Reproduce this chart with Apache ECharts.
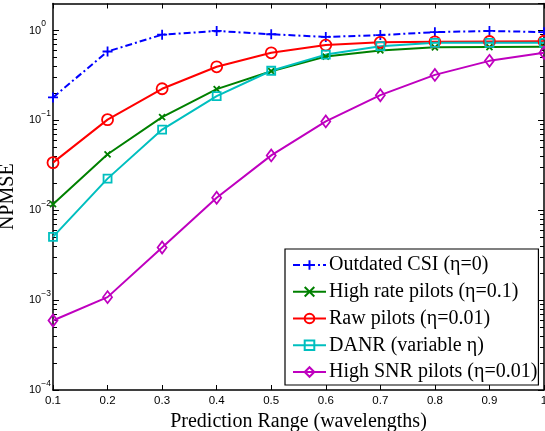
<!DOCTYPE html>
<html>
<head>
<meta charset="utf-8">
<script src="https://cdn.jsdelivr.net/npm/echarts@6/dist/echarts.min.js"></script>
<style>
  html, body { margin: 0; padding: 0; background: #fff; }
  #chart { width: 545px; height: 431px; }
</style>
</head>
<body>
<div id="chart"></div>
<script>
// Prediction range in wavelengths
const predictionRange = [0.1, 0.2, 0.3, 0.4, 0.5, 0.6, 0.7, 0.8, 0.9, 1.0];

// NPMSE for each prediction scheme
const outdatedCsi   = [0.18, 0.585, 0.90, 0.99, 0.91, 0.85, 0.89, 0.96, 0.99, 0.96];
const highRatePilot = [0.0117, 0.042, 0.109, 0.223, 0.353, 0.514, 0.60, 0.65, 0.655, 0.66];
const rawPilot      = [0.0339, 0.102, 0.225, 0.395, 0.565, 0.69, 0.74, 0.75, 0.755, 0.76];
const danr          = [0.00506, 0.0225, 0.079, 0.186, 0.357, 0.54, 0.67, 0.73, 0.73, 0.73];
const highSnrPilot  = [0.000594, 0.00108, 0.00385, 0.0138, 0.0408, 0.0975, 0.191, 0.321, 0.46, 0.565];

const seriesNames = [
  'Outdated CSI (\u03b7=0)',
  'High rate pilots (\u03b7=0.1)',
  'Raw pilots (\u03b7=0.01)',
  'DANR (variable \u03b7)',
  'High SNR pilots (\u03b7=0.01)'
];

const yMin = 1e-4, yMax = 2;

// log-spaced minor tick positions (in log10 units) for the tick-only axes
const minorTicks = [];
for (let e = -4; e <= 0; e++) {
  for (let k = 2; k <= 9; k++) {
    const v = Math.log10(k) + e;
    if (v < Math.log10(yMax)) minorTicks.push(v);
  }
}

const serifFont = '"Liberation Serif", "Times New Roman", serif';
const sansFont = '"Liberation Sans", Arial, Helvetica, sans-serif';

function pairs(ys) { return predictionRange.map((x, i) => [x, ys[i]]); }

function makeSeries(name, ys, color, symbol, size, lineType) {
  return {
    name: name,
    type: 'line',
    data: pairs(ys),
    xAxisIndex: 0,
    yAxisIndex: 0,
    symbol: symbol,
    symbolSize: size,
    showAllSymbol: true,
    lineStyle: { color: color, width: 2, type: lineType || 'solid' },
    itemStyle: { color: 'rgba(0,0,0,0)', borderColor: color, borderWidth: 1.8 },
    emphasis: { disabled: true },
    animation: false
  };
}

const plusPath = 'path://M0,5 L10,5 M5,0 L5,10';
const crossPath = 'path://M0,0 L10,10 M0,10 L10,0';

const chart = echarts.init(document.getElementById('chart'), null, { renderer: 'canvas' });

const tickStyle = { color: '#000', width: 1 };
const axisLineStyle = { color: '#000', width: 1.5 };

chart.setOption({
  animation: false,
  backgroundColor: '#fff',
  grid: {
    left: 53, right: 1, top: 3.5, bottom: 41,
    containLabel: false,
    outerBoundsMode: 'none'
  },
  legend: {
    orient: 'vertical',
    left: 285,
    top: 249,
    data: seriesNames,
    itemWidth: 33,
    itemHeight: 12,
    itemGap: 6.75,
    padding: [6, 1, 3, 7],
    backgroundColor: '#fff',
    borderColor: '#000',
    borderWidth: 1.2,
    borderRadius: 0,
    selectedMode: false,
    textStyle: {
      fontFamily: serifFont,
      fontSize: 20,
      lineHeight: 20,
      color: '#000',
      padding: [0, 0, 0, -2]
    }
  },
  xAxis: [
    {
      type: 'value',
      min: 0.1,
      max: 1,
      interval: 0.1,
      position: 'bottom',
      name: 'Prediction Range (wavelengths)',
      nameLocation: 'middle',
      nameGap: 26,
      nameTextStyle: {
        fontFamily: serifFont, fontSize: 20, color: '#000', verticalAlign: 'middle'
      },
      axisLine: { show: true, onZero: false, lineStyle: axisLineStyle },
      axisTick: { show: true, inside: true, length: 5, lineStyle: tickStyle },
      axisLabel: {
        margin: 5,
        fontFamily: sansFont,
        fontSize: 11.5,
        color: '#000',
        showMinLabel: true,
        showMaxLabel: true,
        formatter: v => String(Math.round(v * 10) / 10)
      },
      splitLine: { show: false }
    },
    {
      type: 'value',
      min: 0.1,
      max: 1,
      interval: 0.1,
      position: 'top',
      axisLine: { show: true, onZero: false, lineStyle: axisLineStyle },
      axisTick: { show: true, inside: true, length: 5, lineStyle: tickStyle },
      axisLabel: { show: false },
      splitLine: { show: false }
    }
  ],
  yAxis: [
    {
      type: 'log',
      logBase: 10,
      min: yMin,
      max: yMax,
      position: 'left',
      name: 'NPMSE',
      nameLocation: 'middle',
      nameGap: 38.5,
      nameTextStyle: {
        fontFamily: serifFont, fontSize: 20, color: '#000', verticalAlign: 'middle'
      },
      axisLine: { show: true, onZero: false, lineStyle: axisLineStyle },
      axisTick: { show: true, inside: true, length: 6, lineStyle: tickStyle },
      axisLabel: {
        margin: 24,
        align: 'left',
        showMaxLabel: false,
        formatter: function (v) {
          const lg = Math.log10(v);
          const e = Math.round(lg);
          if (Math.abs(lg - e) > 1e-6) return '';
          const exp = e < 0 ? '\u2212' + (-e) : String(e);
          return '{b|10}{e|' + exp + '}';
        },
        rich: {
          b: { fontFamily: sansFont, fontSize: 11, lineHeight: 22, color: '#000', verticalAlign: 'middle' },
          e: { fontFamily: sansFont, fontSize: 8.5, lineHeight: 12, color: '#000', verticalAlign: 'top' }
        }
      },
      splitLine: { show: false }
    },
    {
      type: 'value',
      min: -4,
      max: Math.log10(yMax),
      position: 'left',
      axisLine: { show: false },
      axisTick: { show: true, inside: true, length: 4, lineStyle: tickStyle, customValues: minorTicks },
      axisLabel: { show: false },
      splitLine: { show: false }
    },
    {
      type: 'log',
      logBase: 10,
      min: yMin,
      max: yMax,
      position: 'right',
      axisLine: { show: true, onZero: false, lineStyle: axisLineStyle },
      axisTick: { show: true, inside: true, length: 6, lineStyle: tickStyle },
      axisLabel: { show: false },
      splitLine: { show: false }
    },
    {
      type: 'value',
      min: -4,
      max: Math.log10(yMax),
      position: 'right',
      axisLine: { show: false },
      axisTick: { show: true, inside: true, length: 4, lineStyle: tickStyle, customValues: minorTicks },
      axisLabel: { show: false },
      splitLine: { show: false }
    }
  ],
  series: [
    makeSeries(seriesNames[0], outdatedCsi, '#0000ff', plusPath, 10, [7, 3, 2, 3]),
    makeSeries(seriesNames[1], highRatePilot, '#008000', crossPath, 6),
    makeSeries(seriesNames[2], rawPilot, '#ff0000', 'circle', 11),
    makeSeries(seriesNames[3], danr, '#00bfbf', 'rect', 8),
    makeSeries(seriesNames[4], highSnrPilot, '#bf00bf', 'diamond', [9, 12])
  ]
});
</script>
</body>
</html>
